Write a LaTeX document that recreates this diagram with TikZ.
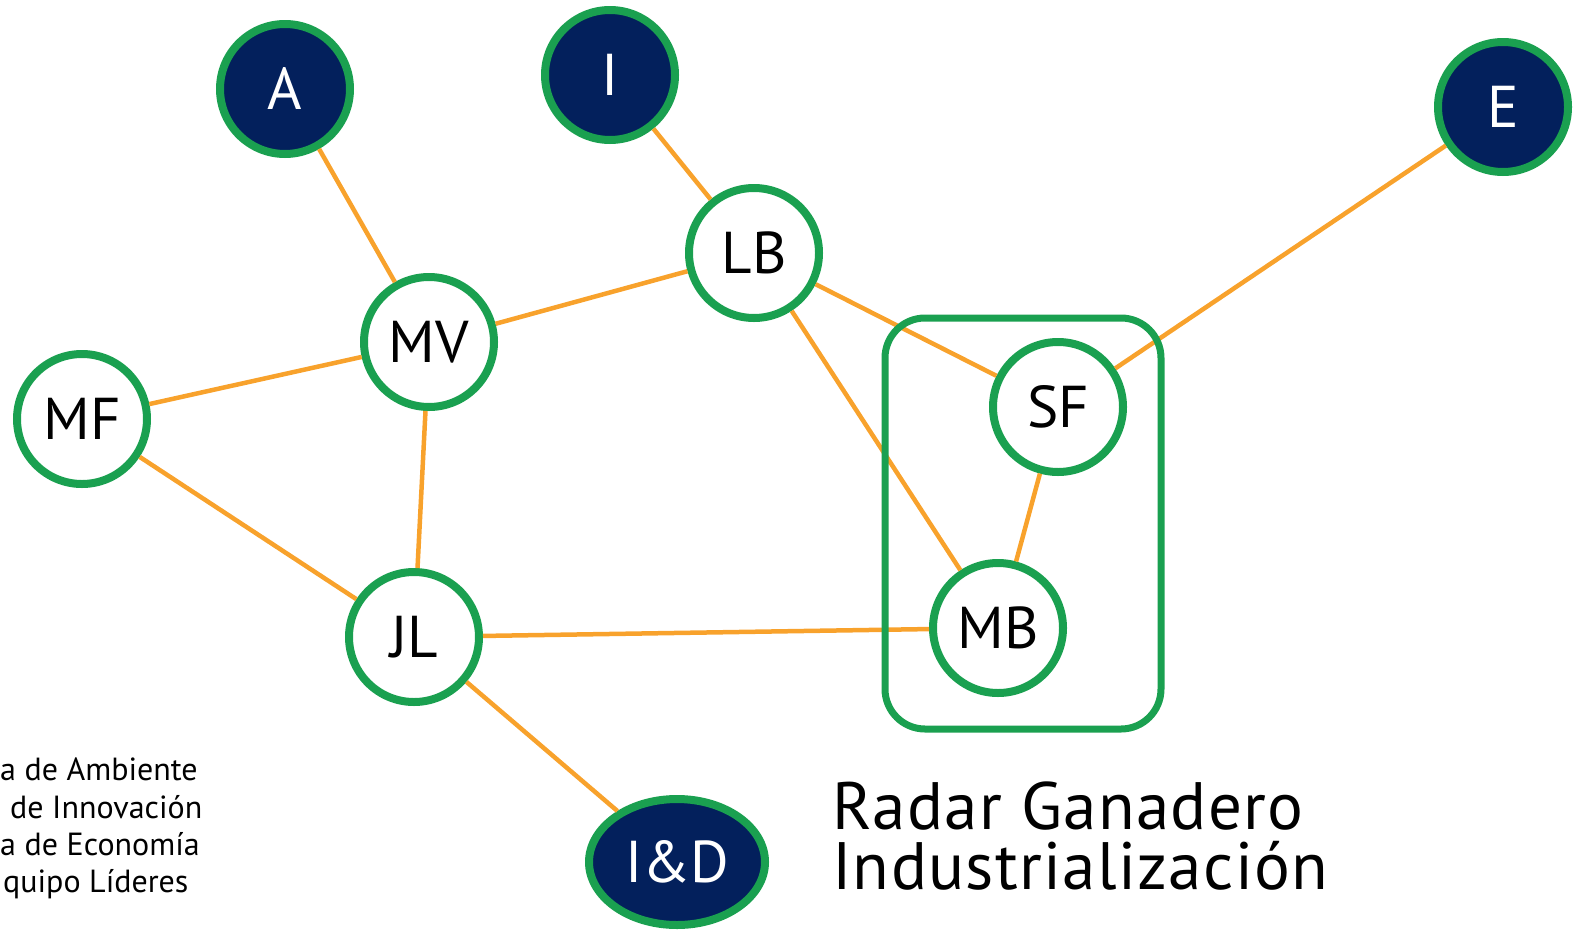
\documentclass[tikz,border=0pt]{standalone}
\usepackage{fontspec}
\setmainfont{PT Sans}
\newfontfamily\titlefont[LetterSpace=2]{PT Sans}
\usetikzlibrary{shapes.geometric}

\definecolor{navy}{RGB}{3,32,92}
\definecolor{leafgreen}{RGB}{26,160,80}
\definecolor{linkorange}{RGB}{248,162,44}

\tikzset{
    person/.style={circle, draw=leafgreen, line width=8pt, fill=white,
        minimum size=130pt, inner sep=0pt,
        font=\fontsize{59}{60}\selectfont},
    area/.style={person, fill=navy, text=white},
    link/.style={linkorange, line width=4.5pt},
    caption/.style={anchor=base west, inner sep=0pt,
        font=\fontsize{32}{36}\selectfont},
    heading/.style={caption, align=left,
        font=\titlefont\fontsize{67}{60}\selectfont}
}

\begin{document}
\begin{tikzpicture}[x=1pt, y=-1pt]
        \useasboundingbox (0,0) rectangle (1577,932);

        % Areas
        \node[area] (A) at (285,89) {A};
        \node[area] (I) at (610,75) {I};
        \node[area] (E) at (1503,107) {E};
        \node[area, ellipse, minimum width=176pt, minimum height=126pt] (ID) at (677,862) {I\&D};

        % People
        \node[person] (LB) at (754,253) {LB};
        \node[person] (MV) at (429,342) {MV};
        \node[person] (MF) at (82,419) {MF};
        \node[person] (SF) at (1058,407) {SF};
        \node[person] (JL) at (414,637) {JL};
        \node[person] (MB) at (998,628) {MB};

        % Draw the links
        \foreach \a/\b in {A/MV, I/LB, LB/MV, LB/SF, LB/MB, MV/MF, MV/JL,
                           MF/JL, JL/MB, JL/ID, SF/MB, SF/E} {
            \draw[link] (\a) -- (\b);
        }

        % Group box
        \draw[leafgreen, line width=7pt, rounded corners=40pt] (885,318) rectangle (1161,729);

        % Title (base anchor sits on the last line)
        \node[heading] (title) at (832,889) {Radar Ganadero\\Industrialización};

        % Legend
        \node[caption] (leg1) at (0,780) {a de Ambiente};
        \node[caption] (leg2) at (10,818) {de Innovación};
        \node[caption] (leg3) at (0,855) {a de Economía};
        \node[caption] (leg4) at (3,892) {quipo Líderes};
    \end{tikzpicture}
\end{document}
